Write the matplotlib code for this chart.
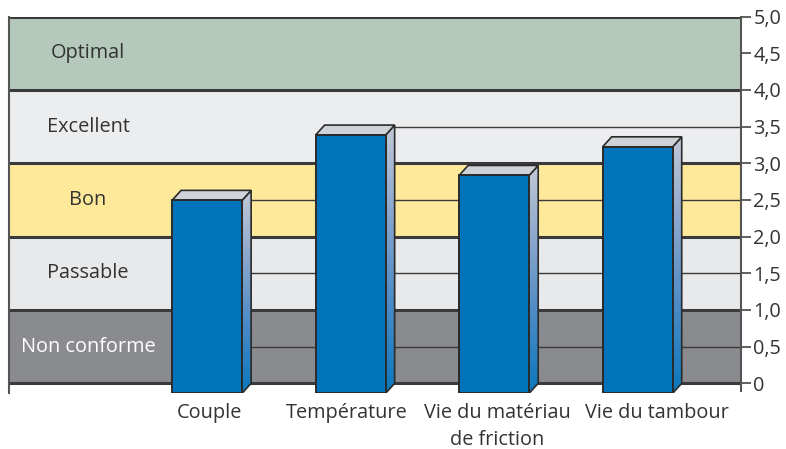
import matplotlib
matplotlib.use("Agg")
import matplotlib.pyplot as plt
import matplotlib.transforms as mtransforms
import numpy as np
from matplotlib.patches import Polygon, Rectangle
from matplotlib.colors import LinearSegmentedColormap

plt.rcParams['font.family'] = ['Open Sans', 'DejaVu Sans']

categories = ["Couple", "Température", "Vie du matériau\nde friction", "Vie du tambour"]
values = [2.63, 3.52, 2.97, 3.36]
bands = [(0, 1, "Non conforme"), (1, 2, "Passable"), (2, 3, "Bon"), (3, 4, "Excellent"), (4, 5, "Optimal")]
band_colors = ["#8a8b8e", "#e8e9eb", "#fee99b", "#ecedef", "#b4c9bc"]
band_text_colors = ["white", "#333333", "#333333", "#333333", "#333333"]
half_levels = [0.5, 1.5, 2.5, 3.5]
yticks = [0, 0.5, 1, 1.5, 2, 2.5, 3, 3.5, 4, 4.5, 5]
ytick_labels = ["0", "0,5", "1,0", "1,5", "2,0", "2,5", "3,0", "3,5", "4,0", "4,5", "5,0"]

W, H = 786, 449
fig = plt.figure(figsize=(W / 100, H / 100), dpi=100)
left_px, right_px, top_px, bot_px = 9, 741, 16.5, 393.3
ax = fig.add_axes([left_px / W, 1 - bot_px / H, (right_px - left_px) / W, (bot_px - top_px) / H])

xmin, xmax = -1.38, 3.72
ymin, ymax = -0.136, 5.0

w = 0.488
dx = 0.063
dy = 0.136
dark = "#2b2b2b"
fs = 14.3

for (lo, hi, name), col, tc in zip(bands, band_colors, band_text_colors):
    ax.add_patch(Rectangle((xmin, lo), xmax - xmin, hi - lo, facecolor=col, edgecolor="none", zorder=0))
    ax.text(-0.83, (lo + hi) / 2, name, ha="center", va="center", fontsize=fs, color=tc, zorder=1)

for y in half_levels:
    first = next((i for i, v in enumerate(values) if v > y), 0)
    ax.plot([first, xmax], [y, y], color="#3a3a3a", lw=1.0, zorder=1, solid_capstyle="butt")
for y in [0, 1, 2, 3, 4, 5]:
    ax.plot([xmin, xmax], [y, y], color="#3a3a3a", lw=2.2, zorder=1.5, solid_capstyle="butt")

grad = np.linspace(0, 1, 256).reshape(-1, 1)
side_cmap = LinearSegmentedColormap.from_list("side", ["#0a78bd", "#4a8ac6", "#8aa6cc", "#c2c9d6"])

for i, v in enumerate(values):
    x0 = i - w / 2
    x1 = i + w / 2
    pts = [(x1, -dy), (x1, v - dy), (x1 + dx, v), (x1 + dx, 0)]
    im = ax.imshow(grad, cmap=side_cmap, extent=[x1, x1 + dx, -dy, v], origin="lower",
                   aspect="auto", zorder=3, interpolation="bilinear")
    clip = Polygon(pts, closed=True, transform=ax.transData, facecolor="none", edgecolor="none")
    im.set_clip_path(clip)
    ax.add_patch(Polygon(pts, closed=True, facecolor="none", edgecolor=dark, lw=1.2, zorder=3.1))
    ax.add_patch(Polygon([(x0, v - dy), (x0 + dx, v), (x1 + dx, v), (x1, v - dy)], closed=True,
                         facecolor="#cfd2d8", edgecolor=dark, lw=1.2, zorder=3.2))
    ax.add_patch(Rectangle((x0, -dy), w, v, facecolor="#0073bb", edgecolor=dark, lw=1.4, zorder=3.3))

ax.set_xlim(xmin, xmax)
ax.set_ylim(ymin, ymax)

for s in ["top", "bottom"]:
    ax.spines[s].set_visible(False)
ax.spines["left"].set_bounds(-0.13, 5)
ax.spines["left"].set_color("#555555")
ax.spines["left"].set_linewidth(1.5)
ax.spines["right"].set_bounds(-0.1, 5)
ax.spines["right"].set_color("#555555")
ax.spines["right"].set_linewidth(1.5)

ax.yaxis.tick_right()
ax.set_yticks(yticks)
ax.set_yticklabels(ytick_labels)
ax.tick_params(axis="y", direction="out", length=7, width=1.2, color="#444444",
               labelsize=fs, labelcolor="#333333", pad=2)

ax.set_xticks(range(len(categories)))
ax.set_xticklabels(categories, fontsize=fs, color="#333333", linespacing=1.45)
ax.tick_params(axis="x", length=0, pad=7)
label_shift_px = [2, -4, 3, 19]
for lab, sh in zip(ax.get_xticklabels(), label_shift_px):
    lab.set_transform(lab.get_transform() + mtransforms.ScaledTranslation(sh / 100, 0, fig.dpi_scale_trans))

fig.savefig("out.png", dpi=100)
